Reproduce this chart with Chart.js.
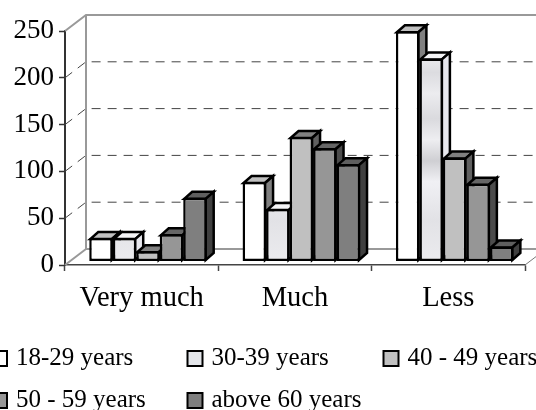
<!DOCTYPE html>
<html>
<head>
<meta charset="utf-8">
<script src="https://cdn.jsdelivr.net/npm/chart.js@4/dist/chart.umd.min.js"></script>
<style>
  html, body { margin: 0; padding: 0; background: #fff; overflow: hidden; }
  canvas { display: block; }
</style>
</head>
<body>
<canvas id="chart" width="536" height="410"></canvas>
<script>
const categories = ["Very much", "Much", "Less"];
const yTicks = [0, 50, 100, 150, 200, 250];

const seriesNames = ["18-29 years", "30-39 years", "40 - 49 years", "50 - 59 years", "above 60 years"];
const years18 = [25, 85, 246];
const years30 = [25, 56, 217];
const years40 = [11, 133, 111];
const years50 = [29, 121, 83];
const years60 = [68, 104, 16];
const allSeries = [years18, years30, years40, years50, years60];

const FONT = '"Liberation Serif", "Times New Roman", serif';
const ctx = document.getElementById("chart").getContext("2d");

// mottled fill of the 30-39 bars
const mottled = ctx.createLinearGradient(0, 55, 0, 265);
[[0, "#f0f0f3"], [0.1, "#dcdce0"], [0.2, "#ececef"], [0.32, "#dadade"], [0.42, "#eeeef1"],
 [0.52, "#cfcfd3"], [0.62, "#f0f0f4"], [0.8, "#e2e2e6"], [1, "#ebebee"]].forEach((s) => mottled.addColorStop(s[0], s[1]));

const frontColors = ["#ffffff", mottled, "#c0c0c0", "#969696", "#7f7f7f"];
const topColors = ["#c0c0c0", "#f4f4f6", "#808080", "#666666", "#5f5f5f"];
const sideColors = ["#808080", "#e8e8ee", "#606060", "#4c4c4c", "#404040"];

// how far the 3D box sits from the axis, and how deep it is
const DEPTH_X = 21, DEPTH_Y = 16;
const BAR_DX = 6.3, BAR_DY = -3.5, BAR_DEEP_X = 8, BAR_DEEP_Y = 7;

function face(c, pts, fill) {
  c.beginPath();
  pts.forEach((p, i) => (i ? c.lineTo(p[0], p[1]) : c.moveTo(p[0], p[1])));
  c.closePath();
  c.fillStyle = fill;
  c.fill();
  c.stroke();
}

const walls = {
  id: "walls",
  beforeDatasetsDraw(chart) {
    const c = chart.ctx, a = chart.chartArea, y = chart.scales.y;
    const top = y.getPixelForValue(250), zero = y.getPixelForValue(0);
    c.save();
    // floor and back wall edges
    c.strokeStyle = "#999999";
    c.lineWidth = 2;
    c.beginPath();
    c.moveTo(a.left, top);
    c.lineTo(a.left + DEPTH_X, top - DEPTH_Y);
    c.lineTo(a.right + DEPTH_X, top - DEPTH_Y);
    c.moveTo(a.left + DEPTH_X, top - DEPTH_Y);
    c.lineTo(a.left + DEPTH_X, zero - DEPTH_Y);
    c.lineTo(a.right + DEPTH_X, zero - DEPTH_Y);
    c.moveTo(a.left, zero);
    c.lineTo(a.left + DEPTH_X, zero - DEPTH_Y);
    c.stroke();
    c.strokeStyle = "#777777";
    c.lineWidth = 1;
    c.beginPath();
    c.moveTo(a.right, zero);
    c.lineTo(a.right + DEPTH_X, zero - DEPTH_Y);
    c.stroke();
    // dashed gridlines
    c.strokeStyle = "#444444";
    c.lineWidth = 1;
    c.setLineDash([9, 7]);
    yTicks.slice(1, -1).forEach((t) => {
      const py = y.getPixelForValue(t);
      c.beginPath();
      c.moveTo(a.left, py);
      c.lineTo(a.left + DEPTH_X, py - DEPTH_Y);
      c.lineTo(a.right + DEPTH_X, py - DEPTH_Y);
      c.stroke();
    });
    c.restore();
  },
  // Chart.js paints the first dataset last; here later bars have to cover earlier ones
  beforeDatasetDraw() {
    return false;
  },
  afterDatasetsDraw(chart) {
    const c = chart.ctx;
    chart.getSortedVisibleDatasetMetas().forEach((meta, i) => {
      c.save();
      c.translate(BAR_DX, BAR_DY);
      c.strokeStyle = "#000";
      c.lineWidth = 2.5;
      meta.data.forEach((bar) => {
        const l = bar.x - bar.width / 2 + 1, r = bar.x + bar.width / 2 - 1;
        const t = bar.y + 1, b = bar.base - 1;
        face(c, [[l, t], [l + BAR_DEEP_X, t - BAR_DEEP_Y], [r + BAR_DEEP_X, t - BAR_DEEP_Y], [r, t]], topColors[i]);
        face(c, [[r, t], [r + BAR_DEEP_X, t - BAR_DEEP_Y], [r + BAR_DEEP_X, b - BAR_DEEP_Y], [r, b]], sideColors[i]);
      });
      meta.controller.draw();
      c.restore();
    });
  },
  afterDraw(chart) {
    const c = chart.ctx;
    c.save();
    c.font = "25px " + FONT;
    c.textBaseline = "middle";
    // two rows, three columns, the first column runs off the left edge
    const colX = [-8, 187.5, 383.5], rowY = [358, 400];
    chart.data.datasets.forEach((ds, i) => {
      const x = colX[i % 3], y = rowY[Math.floor(i / 3)];
      c.fillStyle = i === 1 ? "#e4e6ea" : frontColors[i];
      c.strokeStyle = "#000";
      c.lineWidth = 2;
      c.fillRect(x, y - 7, 15, 15);
      c.strokeRect(x, y - 7, 15, 15);
      c.fillStyle = "#000";
      c.fillText(ds.label, x + 24, y);
    });
    c.restore();
  },
};

new Chart(ctx, {
  type: "bar",
  data: {
    labels: categories,
    datasets: allSeries.map((values, i) => ({
      label: seriesNames[i],
      data: values,
      backgroundColor: frontColors[i],
      borderColor: "#000",
      borderWidth: 2.5,
      borderSkipped: false,
      clip: false,
      categoryPercentage: 0.766,
      barPercentage: 1,
    })),
  },
  options: {
    responsive: false,
    animation: false,
    layout: { padding: { top: 31, right: 11, left: 0, bottom: 0 } },
    plugins: { legend: { display: false }, tooltip: { enabled: false } },
    scales: {
      x: {
        afterFit(scale) { scale.height = 145; },
        border: { color: "#444", width: 1.5 },
        grid: { drawOnChartArea: false, color: "#444", tickLength: 6, tickWidth: 1.5 },
        ticks: { color: "#000", font: { family: FONT, size: 28.5 }, padding: 10, maxRotation: 0 },
      },
      y: {
        min: 0,
        max: 250,
        afterFit(scale) { scale.width = 65; },
        afterBuildTicks(scale) { scale.ticks = yTicks.map((v) => ({ value: v })); },
        border: { color: "#333", width: 2 },
        grid: { drawOnChartArea: false, color: "#333", tickLength: 6, tickWidth: 1.5 },
        ticks: { color: "#000", font: { family: FONT, size: 27 }, padding: 5 },
      },
    },
  },
  plugins: [walls],
});
</script>
</body>
</html>
